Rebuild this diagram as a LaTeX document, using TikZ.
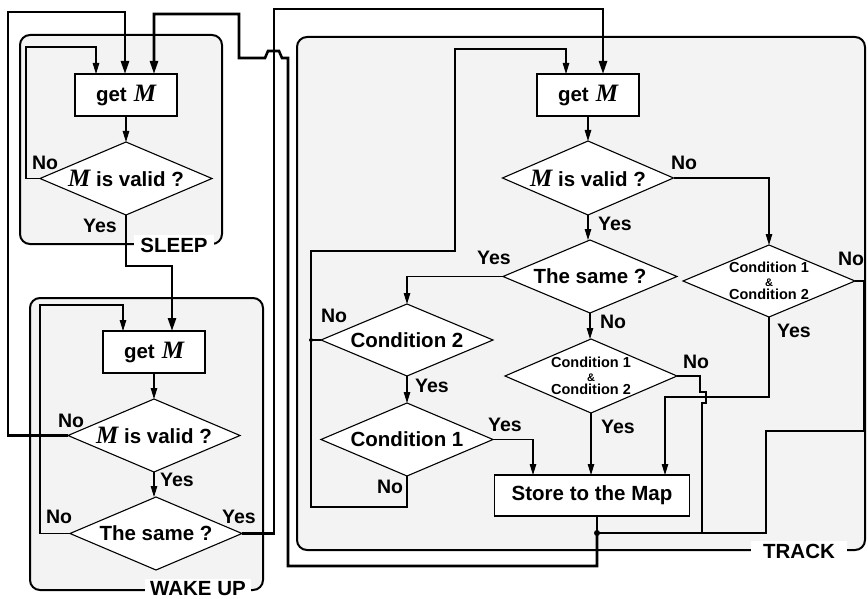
\documentclass[tikz,border=0pt]{standalone}
\usepackage{fontspec}
\setmainfont{Liberation Sans}
\newfontfamily\mserif{Liberation Serif}
\usetikzlibrary{shapes.geometric,arrows.meta}
\definecolor{panel}{HTML}{F3F3F3}
\newcommand{\MM}{{\mserif\itshape\fontsize{25}{25}\selectfont M}}
\newcommand{\bigtxt}{\bfseries\fontsize{20.5}{22}\selectfont}
\newcommand{\smalltxt}{\bfseries\fontsize{14.5}{13.5}\selectfont}
\newcommand{\condboth}{Condition 1\\{\fontsize{11}{11}\selectfont\&}\\Condition 2}
\begin{document}
\begin{tikzpicture}[x=1pt,y=-1pt,
  frame/.style={draw, line width=2pt, rounded corners=10pt, fill=panel, inner sep=0pt, outer sep=0pt},
  framelabel/.style={fill=white, font=\bfseries\fontsize{20.5}{22}\selectfont, inner ysep=3pt},
  proc/.style={draw, line width=1.1pt, fill=white, inner sep=0pt, outer sep=0pt, minimum width=102pt, minimum height=42pt, font=\bigtxt},
  decision/.style={diamond, draw, line width=1.1pt, fill=white, inner sep=0pt, outer sep=0pt, minimum width=172pt, minimum height=73pt},
  bigin/.style={label={[font=\bigtxt, inner sep=0pt]center:{#1}}},
  smallin/.style={label={[font=\smalltxt, align=center, inner sep=0pt]center:{#1}}},
  yn/.style={font=\bfseries\fontsize{19.5}{22}\selectfont, inner sep=0pt},
  arr/.style={line width=1.1pt, -{Triangle[length=11pt,width=6.5pt]}},
  ln/.style={line width=1.1pt},
  tarr/.style={line width=2.6pt, -{Triangle[length=13pt,width=8pt]}},
  tln/.style={line width=2.6pt}]
\useasboundingbox (0,0) rectangle (868,599);

% frames
\node[frame, minimum width=202pt, minimum height=209pt] (sleepbox) at (121,139.5) {};
\node[frame, minimum width=233pt, minimum height=292pt] (wakebox) at (146.5,444) {};
\node[frame, minimum width=568pt, minimum height=513pt] (trackbox) at (581,293.5) {};
\node[framelabel, inner xsep=6pt] (sleeplab) at (174,245) {SLEEP};
\node[framelabel, inner xsep=5pt] (wakelab) at (198,589) {WAKE UP};
\node[framelabel, inner xsep=12pt] (tracklab) at (799,551) {TRACK};

% SLEEP
\node[proc] (sget) at (126,95) {get\hspace{7pt}\MM};
\node[decision, bigin={\MM\ is valid ?}] (svalid) at (126,178.5) {};

% WAKE UP
\node[proc] (wget) at (154,352) {get\hspace{7pt}\MM};
\node[decision, bigin={\MM\ is valid ?}] (wvalid) at (154,435.5) {};
\node[decision, bigin={The same ?}] (wsame) at (156,533.5) {};

% TRACK
\node[proc] (tget) at (588,95) {get\hspace{7pt}\MM};
\node[decision, minimum width=171pt, minimum height=74pt, bigin={\MM\ is valid ?}] (tvalid) at (588,178) {};
\node[decision, minimum width=174pt, bigin={The same ?}] (tsame) at (590,276.5) {};
\node[decision, minimum height=72pt, smallin={\condboth}] (tcc) at (769,281) {};
\node[decision, minimum height=74pt, smallin={\condboth}] (lcc) at (591,376) {};
\node[decision, minimum height=72pt, bigin={Condition 2}] (cond2) at (407,340) {};
\node[decision, bigin={Condition 1}] (cond1) at (407,439.5) {};
\node[proc, minimum width=195pt, minimum height=41pt] (store) at (592,495.5) {Store to the Map};

\coordinate (jd) at (311,340);
\coordinate (jm) at (597,533);

% thin connectors SLEEP
\draw[arr] (sget.south) -- (svalid.north);
\draw[arr] (svalid.west) -| (26,47) -| ([xshift=-30pt]sget.north);
% thin connectors WAKE UP
\draw[arr] (wget.south) -- (wvalid.north);
\draw[arr] (wvalid.south) -- (wvalid.south |- wsame.north);
\draw[arr] (wsame.west) -| (40,305) -| ([xshift=-31pt]wget.north);
% thin connectors TRACK
\draw[arr] (tget.south) -- (tvalid.north);
\draw[arr] (tvalid.south) -- (tvalid.south |- tsame.north);
\draw[arr] (tvalid.east) -| (tcc.north);
\draw[arr] (tsame.west) -| (cond2.north);
\draw[arr] (tsame.south) -- (tsame.south |- lcc.north);
\draw[arr] (cond2.south) -- (cond1.north);
\draw[arr] (cond1.east) -| ([xshift=-59pt]store.north);
\draw[arr] (lcc.south) -- (lcc.south |- store.north);
\draw[arr] (tcc.south) |- (700,397) -| ([xshift=73pt]store.north);
\draw[arr] (cond1.south) |- (311,507) |- (455,251) |- ([xshift=-22pt]tget.north |- 0,49) -- ([xshift=-22pt]tget.north);
\draw[ln] (cond2.west) -- (jd);
\draw[ln] (lcc.east) -- (700,376) -- (700,392) -- (706,392) -- (706,403) -- (702,403) -- (702,533) -- (jm);
\draw[ln] (tcc.east) -- (864,281) -- (864,431) -- (766,431) -- (766,533) -- (jm);
\draw[ln] ([xshift=5pt]store.south) -- (jm);
\fill (jd) circle (2pt);
\fill (jm) circle (3pt);

% thick connectors
\draw[tarr] (wvalid.west) -| (8,12) -| ([xshift=-1pt]sget.north);
\draw[tarr] (svalid.south) -- (126,266) -| ([xshift=18pt]wget.north);
\draw[tarr] (wsame.east) -| (274,9) -| ([xshift=15pt]tget.north);
\draw[tarr, line join=miter] (jm) -- (597,566) -| (288,58) -- (282,58) -- (279,51) -- (268,51) -- (265,58) -| (239,14) -| ([xshift=28pt]sget.north);

% Yes / No labels
\node[yn] (l1) at (45,163) {No};
\node[yn] (l2) at (100,226) {Yes};
\node[yn] (l3) at (71,421) {No};
\node[yn] (l4) at (177,480) {Yes};
\node[yn] (l5) at (59,517) {No};
\node[yn] (l6) at (239,517) {Yes};
\node[yn] (l7) at (684,163) {No};
\node[yn] (l8) at (615,224) {Yes};
\node[yn] (l9) at (494,258) {Yes};
\node[yn] (l10) at (613,322) {No};
\node[yn] (l11) at (851,259) {No};
\node[yn] (l12) at (794,331) {Yes};
\node[yn] (l13) at (696,362) {No};
\node[yn] (l14) at (618,427) {Yes};
\node[yn] (l15) at (334,316) {No};
\node[yn] (l16) at (432,386) {Yes};
\node[yn] (l17) at (505,425) {Yes};
\node[yn] (l18) at (390,487) {No};
\end{tikzpicture}
\end{document}
